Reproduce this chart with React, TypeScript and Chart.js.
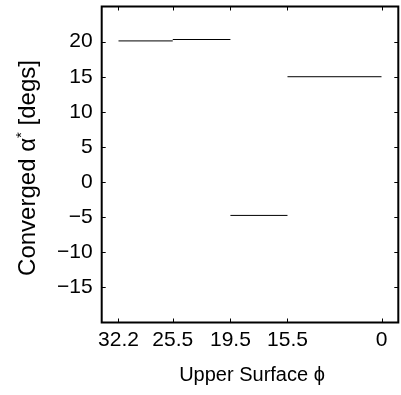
import React, { useEffect, useRef } from 'react';
import { Chart, registerables } from 'chart.js';

Chart.register(...registerables);

// Upper-surface phi cases, placed along the x axis at these positions
const tickPositions = [1, 1.97, 3, 4.02, 5.7];
const tickLabels = ['32.2', '25.5', '19.5', '15.5', '0'];

// Each converged angle holds over one interval of the axis
const segmentStarts = [1, 1.97, 3, 4.02];
const segmentEnds = [1.97, 3, 4.02, 5.7];
const convergedAlpha = [20.1, 20.3, -4.75, 15.0];

const yTicks = [-15, -10, -5, 0, 5, 10, 15, 20];

const FONT = "'Liberation Sans', Arial, Helvetica, sans-serif";

const fmtMinus = (v: number) => (v < 0 ? '\u2212' + Math.abs(v) : String(v));

// Boxed axes with short inward tick marks on all four sides
const framePlugin = {
  id: 'frame',
  afterDatasetsDraw(chart: any) {
    const { ctx, chartArea: a, scales } = chart;
    const len = 4;
    ctx.save();
    ctx.strokeStyle = '#000';
    ctx.lineWidth = 1;
    ctx.beginPath();
    tickPositions.forEach((v) => {
      const x = Math.round(scales.x.getPixelForValue(v)) + 0.5;
      ctx.moveTo(x, a.bottom);
      ctx.lineTo(x, a.bottom - len);
      ctx.moveTo(x, a.top);
      ctx.lineTo(x, a.top + len);
    });
    yTicks.forEach((v) => {
      const y = Math.round(scales.y.getPixelForValue(v)) + 0.5;
      ctx.moveTo(a.left, y);
      ctx.lineTo(a.left + len, y);
      ctx.moveTo(a.right, y);
      ctx.lineTo(a.right - len, y);
    });
    ctx.stroke();
    ctx.lineWidth = 2;
    ctx.strokeRect(a.left, a.top, a.right - a.left, a.bottom - a.top);
    ctx.restore();
  },
};

// Axis titles, with the superscript asterisk on alpha
const titlePlugin = {
  id: 'titles',
  afterDraw(chart: any) {
    const { ctx, chartArea: a } = chart;
    ctx.save();
    ctx.fillStyle = '#000';

    ctx.font = `20px ${FONT}`;
    ctx.textAlign = 'center';
    ctx.textBaseline = 'alphabetic';
    ctx.fillText('Upper Surface \u03D5', (a.left + a.right) / 2 + 2, 381);

    const big = `24px ${FONT}`;
    const small = `15px ${FONT}`;
    const p1 = 'Converged \u03B1';
    const p2 = '*';
    const p3 = ' [degs]';
    ctx.font = big;
    const w1 = ctx.measureText(p1).width;
    const w3 = ctx.measureText(p3).width;
    ctx.font = small;
    const w2 = ctx.measureText(p2).width;
    const total = w1 + w2 + w3;

    ctx.translate(35, 168);
    ctx.rotate(-Math.PI / 2);
    ctx.textAlign = 'left';
    let x = -total / 2;
    ctx.font = big;
    ctx.fillText(p1, x, 0);
    x += w1;
    ctx.font = small;
    ctx.fillText(p2, x, -9);
    x += w2;
    ctx.font = big;
    ctx.fillText(p3, x, 0);
    ctx.restore();
  },
};

export default function App() {
  const canvasRef = useRef<HTMLCanvasElement | null>(null);

  useEffect(() => {
    const canvas = canvasRef.current;
    if (!canvas) return;

    const datasets = convergedAlpha.map((y, i) => ({
      label: `case ${i + 1}`,
      data: [
        { x: segmentStarts[i], y },
        { x: segmentEnds[i], y },
      ],
      borderColor: '#000',
      borderWidth: 1,
      pointRadius: 0,
      fill: false,
    }));

    const chart = new Chart(canvas, {
      type: 'line',
      data: { datasets },
      options: {
        responsive: false,
        animation: false,
        layout: { padding: { left: 0, top: 6.5, right: 2.7, bottom: 0 } },
        plugins: {
          legend: { display: false },
          tooltip: { enabled: false },
        },
        scales: {
          x: {
            type: 'linear',
            min: 0.7,
            max: 6.0,
            grid: { display: false, drawTicks: false },
            border: { display: false },
            ticks: {
              color: '#000',
              font: { family: FONT, size: 21 },
              padding: 5,
              autoSkip: false,
              maxRotation: 0,
              callback: (_v: any, i: number) => tickLabels[i],
            },
            afterBuildTicks: (scale: any) => {
              scale.ticks = tickPositions.map((v) => ({ value: v }));
            },
            afterFit: (scale: any) => {
              scale.height = 72.5;
              scale.paddingLeft = 0;
              scale.paddingRight = 0;
            },
          },
          y: {
            type: 'linear',
            min: -20,
            max: 25,
            grid: { display: false, drawTicks: false },
            border: { display: false },
            ticks: {
              color: '#000',
              font: { family: FONT, size: 21 },
              padding: 9,
              callback: (v: any) => fmtMinus(Number(v)),
            },
            afterBuildTicks: (scale: any) => {
              scale.ticks = yTicks.map((v) => ({ value: v }));
            },
            afterFit: (scale: any) => {
              scale.width = 101.7;
              scale.paddingTop = 0;
              scale.paddingBottom = 0;
            },
          },
        },
      },
      plugins: [framePlugin, titlePlugin],
    });

    return () => chart.destroy();
  }, []);

  return (
    <div
      style={{
        position: 'fixed',
        left: 0,
        top: 0,
        width: 401,
        height: 395,
        background: '#fff',
      }}
    >
      <canvas ref={canvasRef} width={401} height={395} style={{ width: 401, height: 395 }} />
    </div>
  );
}
